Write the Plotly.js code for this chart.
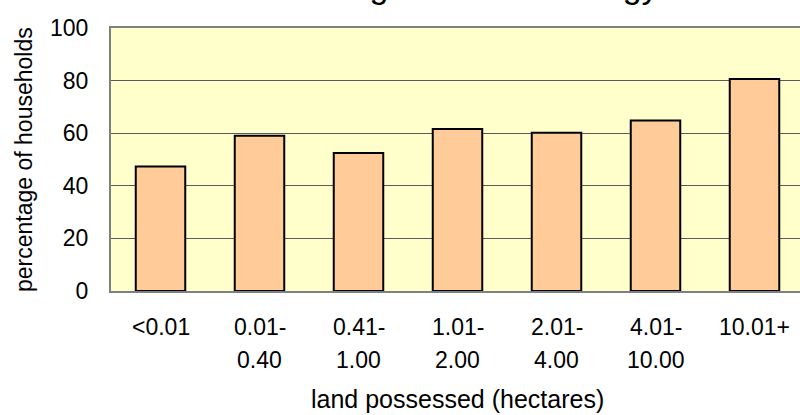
<!DOCTYPE html>
<html>
<head>
<meta charset="utf-8">
<script src="https://cdn.plot.ly/plotly-3.0.1.min.js"></script>
<style>
html,body{margin:0;padding:0;overflow:hidden;background:#fff;}
#chart{width:804px;height:415px;}
</style>
</head>
<body>
<div id="chart"></div>
<script>
// ---- data ----
var categories = ['<0.01', '0.01-0.40', '0.41-1.00', '1.01-2.00', '2.01-4.00', '4.01-10.00', '10.01+'];
var percentHouseholds = [47.3, 59.0, 52.5, 61.6, 60.2, 64.8, 80.6];
var yTickVals = [0, 20, 40, 60, 80, 100];
var titleText = 'Households using traditional energy';
var xTitleText = 'land possessed (hectares)';
var yTitleText = 'percentage of households';

// ---- layout geometry (pixels) ----
var W = 804, H = 415;
var mL = 111, mR = 0, mT = 28, mB = 124;
var plotW = W - mL - mR, plotH = H - mT - mB;
function px2paperX(px){ return (px - mL) / plotW; }
function py2paperY(py){ return (H - mB - py) / plotH; }

var font = 'Liberation Sans, Arial, sans-serif';
var fs = 23;

// category labels drawn as two-line annotations (split after the hyphen)
var annotations = [];
categories.forEach(function(c, i){
  var k = c.indexOf('-');
  var parts = k > 0 ? [c.slice(0, k + 1), c.slice(k + 1)] : [c];
  parts.forEach(function(p, j){
    annotations.push({
      text: p, xref: 'x', yref: 'paper',
      x: c, y: py2paperY(j === 0 ? 327 : 360),
      xanchor: 'center', yanchor: 'middle', showarrow: false,
      font: {family: font, size: fs, color: '#000'}
    });
  });
});
annotations.push({
  text: xTitleText, xref: 'paper', yref: 'paper',
  x: px2paperX(457), y: py2paperY(399), xanchor: 'center', yanchor: 'middle',
  showarrow: false, font: {family: font, size: 25, color: '#000'}
});
annotations.push({
  text: yTitleText, xref: 'paper', yref: 'paper', textangle: -90,
  x: px2paperX(24), y: py2paperY(160), xanchor: 'center', yanchor: 'middle',
  showarrow: false, font: {family: font, size: fs, color: '#000'}
});
annotations.push({
  text: titleText, xref: 'paper', yref: 'paper',
  x: px2paperX(388), y: py2paperY(7), xanchor: 'center', yanchor: 'bottom',
  showarrow: false, font: {family: font, size: 34, color: '#000'}
});

var trace = {
  type: 'bar',
  x: categories,
  y: percentHouseholds,
  width: 0.5,
  marker: {color: '#FFCC99', line: {color: '#000000', width: 2}},
  hoverinfo: 'skip'
};

var layout = {
  width: W, height: H,
  margin: {l: mL, r: mR, t: mT, b: mB, pad: 0},
  paper_bgcolor: '#ffffff',
  plot_bgcolor: '#FFFFCC',
  showlegend: false,
  font: {family: font, size: fs, color: '#000'},
  xaxis: {
    type: 'category', range: [-0.5, 6.5], fixedrange: true,
    showticklabels: false, ticks: '', showgrid: false, zeroline: false,
    showline: true, linecolor: '#808080', linewidth: 2, mirror: true
  },
  yaxis: {
    range: [0, 100], tickvals: yTickVals, fixedrange: true,
    ticks: 'outside', ticklen: 16, tickcolor: 'rgba(0,0,0,0)',
    tickfont: {family: font, size: fs, color: '#000'},
    showgrid: true, gridcolor: '#5a5a5a', gridwidth: 1, zeroline: false,
    showline: true, linecolor: '#808080', linewidth: 2, mirror: true
  },
  annotations: annotations
};

Plotly.newPlot('chart', [trace], layout, {displayModeBar: false, staticPlot: true});
</script>
</body>
</html>
